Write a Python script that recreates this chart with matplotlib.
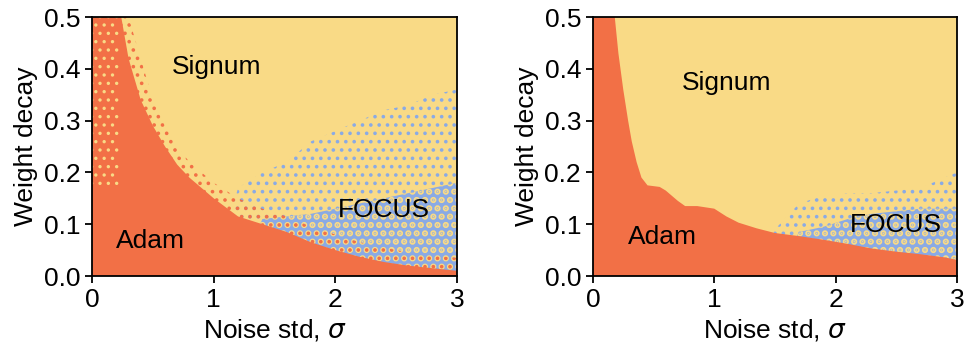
import matplotlib.pyplot as plt

plt.rcParams.update({
    "font.family": ["Liberation Sans", "DejaVu Sans"],
    "mathtext.fontset": "dejavusans",
    "font.size": 19,
})

ORANGE = "#F27046"
YELLOW = "#F9DA86"
BLUE = "#8AAAE5"

# ---- left panel: boundaries (sigma -> weight decay)
L_SIGMA = [0.0, 0.1, 0.24, 0.3, 0.4, 0.5, 0.6, 0.7, 0.8, 0.9, 1.0,
           1.2, 1.4, 1.6, 1.8, 2.0, 2.2, 2.4, 2.6, 2.8, 3.0]
L_ADAM = [0.5, 0.5, 0.5, 0.42, 0.34, 0.29, 0.25, 0.215, 0.19, 0.17, 0.15,
          0.115, 0.10, 0.085, 0.065, 0.05, 0.037, 0.027, 0.02, 0.015, 0.01]
L_ADAM_FRINGE = [0.5, 0.5, 0.5, 0.5, 0.42, 0.34, 0.29, 0.25, 0.22, 0.20, 0.18,
                 0.15, 0.13, 0.115, 0.095, 0.08, 0.065, 0.055, 0.045, 0.04, 0.035]
L_FOCUS_DENSE = [0, 0, 0, 0, 0, 0, 0, 0, 0, 0, 0,
                 0.0, 0.11, 0.115, 0.12, 0.13, 0.14, 0.15, 0.16, 0.17, 0.18]
L_FOCUS_SPARSE = [0, 0, 0, 0, 0, 0, 0, 0, 0, 0, 0.0,
                  0.17, 0.20, 0.22, 0.26, 0.28, 0.30, 0.32, 0.33, 0.35, 0.36]
# yellow speckles inside the Adam strip at small sigma
L_STRIP_SIGMA = [0.0, 0.22]
L_STRIP_LOW = [0.17, 0.17]
L_STRIP_HIGH = [0.5, 0.5]

# ---- right panel
R_SIGMA = [0.0, 0.18, 0.21, 0.25, 0.29, 0.32, 0.36, 0.40, 0.45, 0.55, 0.6,
           0.7, 0.76, 0.86, 1.0, 1.1, 1.2, 1.35, 1.5, 1.7, 1.9, 2.1, 2.3, 2.5,
           2.7, 2.9, 3.0]
R_ADAM = [0.5, 0.5, 0.43, 0.36, 0.30, 0.26, 0.22, 0.19, 0.175, 0.172, 0.165,
          0.145, 0.135, 0.135, 0.13, 0.115, 0.103, 0.092, 0.083, 0.077, 0.070,
          0.062, 0.053, 0.047, 0.042, 0.036, 0.031]
R_FOCUS_DENSE = [0] * 18 + [0.0, 0.085, 0.095, 0.11, 0.12, 0.125, 0.13, 0.13, 0.13]
R_FOCUS_SPARSE = [0] * 18 + [0.09, 0.14, 0.155, 0.16, 0.16, 0.165, 0.17, 0.19, 0.2]

# text labels: (text, sigma, wd)
L_LABELS = [("Signum", 1.02, 0.403), ("Adam", 0.48, 0.068), ("FOCUS", 2.40, 0.127)]
R_LABELS = [("Signum", 1.10, 0.372), ("Adam", 0.57, 0.075), ("FOCUS", 2.50, 0.098)]


def speckle(ax, x, lo, hi, dot_color, face="none", lw=1.5, z=1):
    with plt.rc_context({"hatch.linewidth": lw}):
        ax.fill_between(x, lo, hi, facecolor=face, edgecolor=dot_color,
                        hatch="..", linewidth=0, zorder=z)


def draw_panel(ax, sigma, adam, fringe, dense, sparse, labels, strip=None):
    ax.set_facecolor(YELLOW)
    # sparse FOCUS speckles on Signum
    speckle(ax, sigma, 0, sparse, BLUE, lw=1.4, z=1)
    # dense FOCUS zone: blue mixed with yellow
    speckle(ax, sigma, 0, dense, YELLOW, face=BLUE, lw=3.2, z=2)
    if fringe is not None:
        speckle(ax, sigma, 0, fringe, ORANGE, lw=1.4, z=3)
    ax.fill_between(sigma, 0, adam, facecolor=ORANGE, linewidth=0, zorder=4)
    if strip is not None:
        speckle(ax, strip[0], strip[1], strip[2], YELLOW, lw=1.2, z=5)
    for txt, x, y in labels:
        ax.text(x, y, txt, ha="center", va="center", zorder=6)

    ax.set_xlim(0, 3)
    ax.set_ylim(0, 0.5)
    ax.set_xticks([0, 1, 2, 3])
    ax.set_yticks([0.0, 0.1, 0.2, 0.3, 0.4, 0.5])
    ax.set_yticklabels([f"{v:.1f}" for v in [0.0, 0.1, 0.2, 0.3, 0.4, 0.5]])
    ax.set_xlabel(r"Noise std, $\sigma$")
    ax.set_ylabel("Weight decay")
    for s in ax.spines.values():
        s.set_linewidth(1.3)
        s.set_zorder(10)
    ax.tick_params(width=1.3, length=5)


fig = plt.figure(figsize=(9.72, 3.56), dpi=100)
ax1 = fig.add_axes([0.0947, 0.2247, 0.3755, 0.7275])
ax2 = fig.add_axes([0.6100, 0.2247, 0.3745, 0.7275])

draw_panel(ax1, L_SIGMA, L_ADAM, L_ADAM_FRINGE, L_FOCUS_DENSE, L_FOCUS_SPARSE,
           L_LABELS, strip=(L_STRIP_SIGMA, L_STRIP_LOW, L_STRIP_HIGH))
draw_panel(ax2, R_SIGMA, R_ADAM, None, R_FOCUS_DENSE, R_FOCUS_SPARSE, R_LABELS)

fig.savefig("out.png", dpi=100)
